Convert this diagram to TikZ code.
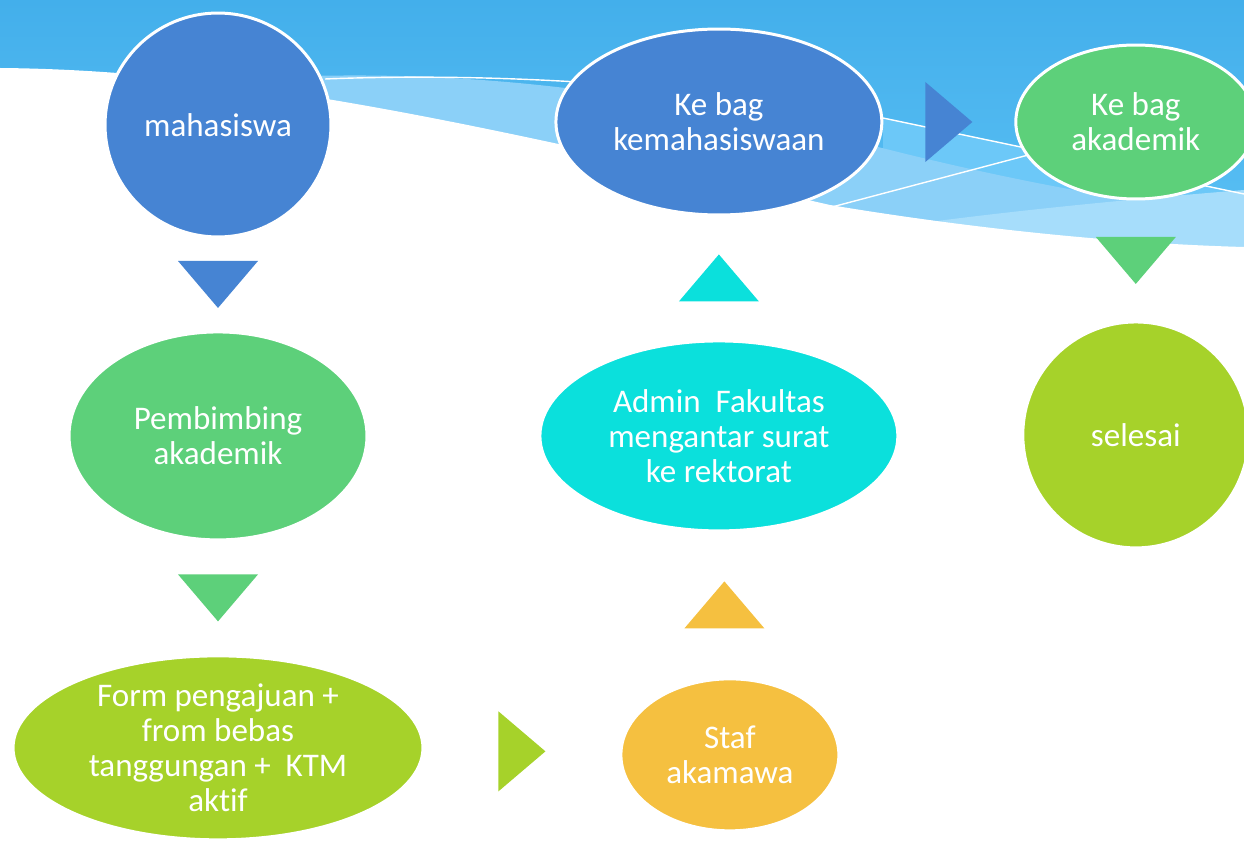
\documentclass[tikz,border=0pt]{standalone}
\usepackage{fontspec}
\setmainfont{Carlito}[Ligatures=NoCommon]
\usetikzlibrary{calc,positioning,shapes.geometric}

\definecolor{nodeblue}{HTML}{4684D3}
\definecolor{nodegreen}{HTML}{5DD07A}
\definecolor{nodelime}{HTML}{A6D22A}
\definecolor{nodeorange}{HTML}{F5C040}
\definecolor{nodecyan}{HTML}{0BE0DC}
\definecolor{skytop}{HTML}{43AFEB}
\definecolor{skybot}{HTML}{5CC1F5}
\definecolor{skymid}{HTML}{6CC8F8}
\definecolor{swoosh}{HTML}{8BD0F8}
\definecolor{swooshlow}{HTML}{A6DDFB}

% step triangles between two bubbles
\newcommand{\tridown}[3]{\fill[#3] ($(#1.south)!0.5!(#2.north)$) ++(-40,-23.5) -- ++(80,0) -- ++(-40,47) -- cycle;}
\newcommand{\triup}[3]{\fill[#3] ($(#1.north)!0.5!(#2.south)$) ++(-40,23.5) -- ++(80,0) -- ++(-40,-47) -- cycle;}
\newcommand{\triright}[3]{\fill[#3] ($(#1.east)!0.5!(#2.west)$) ++(-23.5,-40) -- ++(0,80) -- ++(47,-40) -- cycle;}

\begin{document}
\begin{tikzpicture}[
    x=0.02cm, y=-0.02cm,
    bubble/.style={ellipse, draw=white, line width=1.7pt, text=white, align=center,
        inner sep=0pt, font=\fontsize{18.8}{20}\selectfont}
]
\useasboundingbox (0,0) rectangle (1244,841);

% background band
\fill[top color=skytop, bottom color=skybot] (0,0) rectangle (1244,260);
\fill[skymid] (883,118) -- (1244,194) -- (1244,260) -- (883,260) -- cycle;
\fill[swoosh] (310,76) .. controls (480,72) and (650,90) .. (890,150)
    .. controls (1030,185) and (1150,205) .. (1244,215) -- (1244,260) -- (310,260) -- cycle;
\fill[swooshlow] (900,226) .. controls (1000,212) and (1120,200) .. (1244,190) -- (1244,260) -- (900,260) -- cycle;
\fill[white] (0,68) .. controls (250,70) and (500,130) .. (830,205)
    .. controls (950,225) and (1100,243) .. (1244,247) -- (1244,300) -- (0,300) -- cycle;
\draw[white, line width=0.8pt] (325,79) .. controls (500,72) and (700,85) .. (883,118) -- (1244,194);
\draw[white, line width=0.8pt] (832,207) -- (1100,136);

% bubbles
\node[bubble, fill=nodeblue, minimum width=4.52cm, minimum height=4.48cm] (mhs) at (218,125) {mahasiswa};
\node[bubble, fill=nodegreen, minimum width=5.96cm, minimum height=4.16cm, below=1.84cm of mhs] (pa) {Pembimbing\\akademik};
\node[bubble, fill=nodelime, minimum width=8.2cm, minimum height=3.68cm, inner ysep=-0.2cm, below=2.26cm of pa] (form) {Form pengajuan +\\from bebas\\tanggungan +~ KTM\\aktif};
\node[bubble, fill=nodeorange, minimum width=4.36cm, minimum height=3.04cm, right=3.9cm of form, yshift=-0.14cm] (staf) {Staf\\akamawa};
\node[bubble, fill=nodecyan, minimum width=7.16cm, minimum height=3.8cm, above=2.9cm of staf, xshift=-0.22cm] (admin) {Admin~ Fakultas\\mengantar surat\\ke rektorat};
\node[bubble, fill=nodeblue, minimum width=6.52cm, minimum height=3.72cm, above=2.46cm of admin] (kemah) {Ke bag\\kemahasiswaan};
\node[bubble, fill=nodegreen, minimum width=4.8cm, minimum height=3.08cm, right=2.62cm of kemah] (akad) {Ke bag\\akademik};
\node[bubble, fill=nodelime, minimum width=4.52cm, minimum height=4.52cm, below=2.4cm of akad] (done) {selesai};

% steps
\tridown{mhs}{pa}{nodeblue}
\tridown{pa}{form}{nodegreen}
\triright{form}{staf}{nodelime}
\triup{staf}{admin}{nodeorange}
\triup{admin}{kemah}{nodecyan}
\triright{kemah}{akad}{nodeblue}
\tridown{akad}{done}{nodegreen}
\end{tikzpicture}
\end{document}
